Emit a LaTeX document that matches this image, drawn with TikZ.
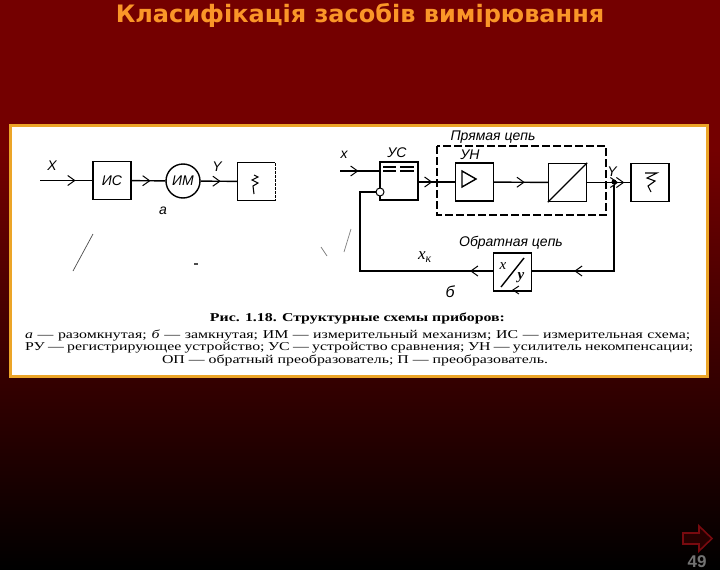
\documentclass[tikz,border=0pt]{standalone}
\usepackage{fontspec}
\setmainfont{Liberation Serif}
\setsansfont{Liberation Sans}
\newfontfamily\titlefont{DejaVu Sans}
\newfontfamily\capfont[FakeStretch=1.32]{Liberation Serif}
\usetikzlibrary{decorations.markings, arrows.meta}

\definecolor{fondo}{RGB}{116,0,0}
\definecolor{cornice}{RGB}{236,165,40}
\definecolor{titolo}{RGB}{250,150,40}
\definecolor{freccia}{RGB}{120,10,15}

\tikzset{
    blocco/.style={draw, line width=1.4pt, minimum size=38pt, inner sep=0pt, fill=white},
    etichetta/.style={font=\sffamily\itshape\fontsize{14}{14}\selectfont, inner sep=0pt},
    linea/.style={line width=1.4pt},
    punta/.tip={Straight Barb[length=7pt, width=10pt, line width=1pt]},
    midfreccia/.style={linea, postaction={decorate}, decoration={markings,
        mark=at position #1 with {\arrow{punta}}}},
    didascalia/.style={font=\capfont\fontsize{12}{12}\selectfont, inner sep=0pt, anchor=west}
}

\begin{document}
\begin{tikzpicture}[x=1pt, y=-1pt]
    \useasboundingbox (0,0) rectangle (720,570);

    % sfondo
    \fill[fondo] (0,0) rectangle (720,151);
    \shade[top color=fondo, bottom color=black, shading angle=0] (0,150) rectangle (720,570);

    % titolo
    \node[font=\titlefont\bfseries\fontsize{24}{24}\selectfont, text=titolo, inner sep=0pt] (titlenode) at (360,15) {Класифікація засобів вимірювання};

    % cornice
    \draw[line width=2.6pt, cornice, fill=white] (10.5,125.5) rectangle (707.5,376.5);

    % schema a
    \coordinate (inA) at (40,180.5);
    \node[blocco] (isBox) at (112,180.5) {};
    \node[etichetta] at (112,181) {ИС};
    \node[draw, circle, line width=1.4pt, minimum size=34pt, inner sep=0pt] (imCirc) at (183,181) {};
    \node[etichetta] at (183,181) {ИМ};
    \node[blocco, line width=1pt] (ruBoxA) at (256.5,181.5) {};
    \draw[white, line width=1.4pt, dash pattern=on 1pt off 3pt] (ruBoxA.north east) -- (ruBoxA.south east);

    \draw[midfreccia=0.68] (inA) -- (isBox);
    \draw[midfreccia=0.56] (isBox) -- (imCirc);
    \draw[midfreccia=0.55] (imCirc) -- (ruBoxA);

    \node[etichetta] at (52,166) {X};
    \node[etichetta] at (217,167) {Y};
    \node[etichetta] at (163,211) {а};
    \draw[line width=1.1pt] (254,175) -- (258,177) -- (252,180) -- (258,183) -- (253,186) -- (254,194);

    % segni
    \draw[line width=0.7pt, black!70] (93,234) -- (73,271);
    \draw[line width=1.2pt, black!70] (194,264) -- (198,264);
    \draw[line width=0.7pt, black!50] (351,229) -- (344,252);
    \draw[line width=0.7pt, black!50] (321,247) -- (327,256);

    % schema b
    \draw[line width=1.4pt, dash pattern=on 8pt off 3pt] (437,146) rectangle (606,215);
    \coordinate (inB) at (340,171);
    \node[blocco] (usBox) at (399,181) {};
    \node[blocco] (unBox) at (474.5,182) {};
    \node[blocco] (opBox) at (567.5,182.5) {};
    \node[blocco] (ruBoxB) at (650,182.5) {};
    \node[blocco] (xyBox) at (512.5,272) {};
    \node[draw, circle, line width=1pt, minimum size=8pt, inner sep=0pt, fill=white] (sumCirc) at (380,192) {};
    \node[circle, fill=black, minimum size=5pt, inner sep=0pt] (nodoY) at (614,182) {};
    \coordinate (angoloA) at (614,271);
    \coordinate (angoloB) at (360,271);
    \coordinate (angoloC) at (360,192);

    \draw[midfreccia=0.47] (inB) -- (inB -| usBox.west);
    \draw[midfreccia=0.38] (usBox.east |- unBox) -- (unBox);
    \draw[midfreccia=0.57] (unBox) -- (opBox);
    \draw[midfreccia=0.86] (opBox) -- (ruBoxB);
    \draw[midfreccia=0.72] (opBox) -- (ruBoxB);
    \draw[midfreccia=0.75] (nodoY) -- (angoloA) -- (xyBox.east |- angoloA);
    \draw[midfreccia=0.1] (xyBox.west |- angoloB) -- (angoloB) -- (angoloC) -- (sumCirc);

    % dentro i blocchi
    \draw[line width=1.2pt] (383,167) -- (396,167) (400,167) -- (414,167)
        (383,171) -- (396,171) (400,171) -- (414,171);
    \draw[line width=1.4pt] (462,171) -- (476,179) -- (462,187) -- cycle;
    \draw[line width=1.4pt] (opBox.south west) -- (opBox.north east);
    \draw[line width=1.4pt] (501,287) -- (524,258);
    \node[etichetta, font=\itshape\fontsize{15}{15}\selectfont] at (503,266) {x};
    \node[etichetta, font=\itshape\bfseries\fontsize{15}{15}\selectfont] at (521,278) {y};
    \draw[line width=1pt, -{Straight Barb[length=6pt, width=8pt]}] (528,290) -- (512,290);
    \draw[line width=1.1pt] (645,173) -- (657,173) -- (647,178) -- (655,181) -- (648,186) -- (651,192);

    % etichette b
    \node[etichetta] at (344,155) {x};
    \node[etichetta] at (397,153) {УС};
    \node[etichetta] at (470,155) {УН};
    \node[etichetta] at (612,172) {Y};
    \node[etichetta] at (493,137) {Прямая цепь};
    \node[etichetta] at (511,243) {Обратная цепь};
    \node[etichetta, font=\itshape\fontsize{17}{17}\selectfont] at (425,257) {x\textsubscript{к}};
    \node[etichetta, font=\sffamily\itshape\fontsize{16}{16}\selectfont] at (450,292) {б};

    % didascalia
    \node[font=\capfont\bfseries\fontsize{12}{12}\selectfont, inner sep=0pt] (capTitolo) at (357.5,318) {Рис. 1.18. Структурные схемы приборов:};
    \node[didascalia] (capUno) at (25,335) {\makebox[665pt][s]{\textit{а} — разомкнутая; \textit{б} — замкнутая; ИМ — измерительный механизм; ИС — измерительная схема;}};
    \node[didascalia] (capDue) at (25,347.5) {\makebox[668pt][s]{РУ — регистрирующее устройство; УС — устройство сравнения; УН — усилитель некомпенсации;}};
    \node[didascalia, anchor=center] (capTre) at (355,360.5) {ОП — обратный преобразователь; П — преобразователь.};

    % freccia in basso
    \draw[freccia, line width=1.6pt, fill=black!85!red] (683,533) -- (699,533) -- (699,526) -- (712,538.5) -- (699,551) -- (699,544) -- (683,544) -- cycle;
    \node[font=\sffamily\bfseries\fontsize{17}{17}\selectfont, text=black!55!white, inner sep=0pt] (numPagina) at (697,562) {49};
\end{tikzpicture}
\end{document}
